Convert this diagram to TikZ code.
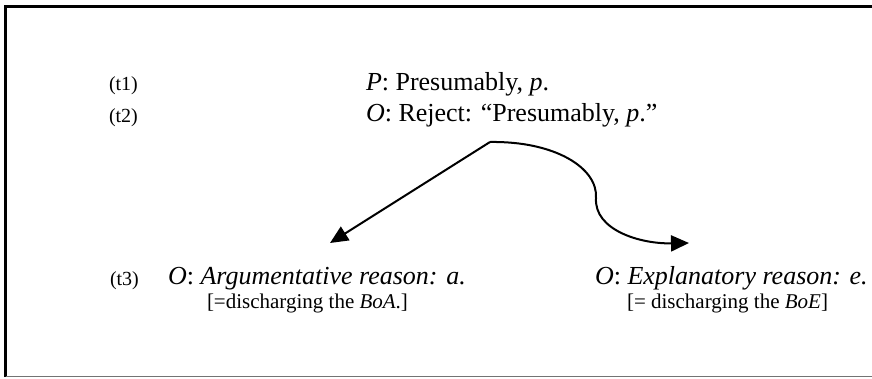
\documentclass[tikz,border=0pt]{standalone}
\usepackage{fontspec}
\setmainfont{Liberation Serif}
\usetikzlibrary{arrows.meta}
\begin{document}
\begin{tikzpicture}[x=1pt,y=-1pt,
    every node/.style={inner sep=0pt,outer sep=0pt,anchor=base west},
    turn/.style={font=\fontsize{20}{24}\selectfont},
    move/.style={font=\fontsize{26}{30}\selectfont},
    note/.style={font=\fontsize{21}{25}\selectfont},
    ar/.style={-{Triangle[length=18pt,width=16pt]},line width=2pt}]
  \useasboundingbox (0,0) rectangle (872,378);
  % frame, open on the right
  \draw[line width=3pt] (872,6.5) -- (5.5,6.5) -- (5.5,376.5);
  \draw[line width=1.5pt,black!55] (5.5,376.5) -- (872,376.5);
  % turns
  \node[turn] (t1) at (109,90) {(t1)};
  \node[turn] (t2) at (109,122) {(t2)};
  \node[turn] (t3) at (110,285) {(t3)};
  \node[move] (claim) at (366,90) {\textit{P}: Presumably, \textit{p}.};
  \node[move] (reject) at (366,121) {\textit{O}: Reject: ``Presumably, \textit{p}.''};
  \node[move] (argue) at (168,284) {\textit{O}: \textit{Argumentative reason: a.}};
  \node[move] (expl) at (595,284) {\textit{O}: \textit{Explanatory reason: e.}};
  \node[note] (boa) at (207,308) {[=discharging the \textit{BoA}.]};
  \node[note] (boe) at (627,308) {[= discharging the \textit{BoE}]};
  % branches
  \coordinate (split) at (490,142);
  \coordinate (argtip) at (330,243);
  \coordinate (expltip) at (689,243);
  \draw[ar] (split) -- (argtip);
  \draw[ar] (split) .. controls (555,141) and (598,168) .. (596,198)
                    .. controls (594,230) and (640,244) .. (expltip);
\end{tikzpicture}
\end{document}
